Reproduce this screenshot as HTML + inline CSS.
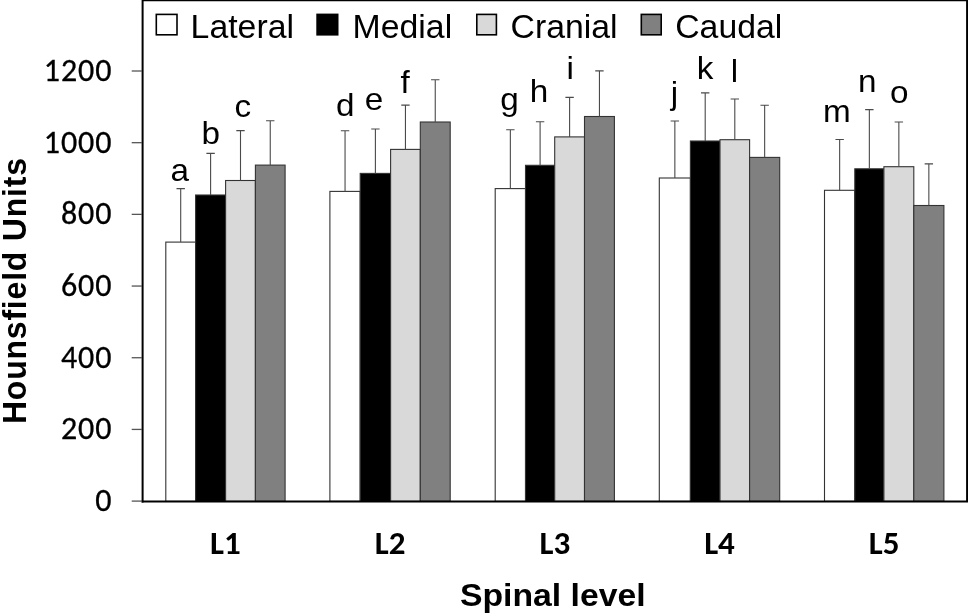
<!DOCTYPE html>
<html lang="en"><head><meta charset="utf-8"><title>Hounsfield Units by spinal level</title>
<style>
html,body{margin:0;padding:0;background:#fff;}
body{width:968px;height:615px;overflow:hidden;}
svg{display:block;}
.ar{font-family:"Liberation Sans",Arimo,Arial,sans-serif;}
.ca{font-family:Carlito,Calibri,"Liberation Sans",sans-serif;}
</style></head><body>
<svg width="968" height="615" viewBox="0 0 968 615">
<rect x="0" y="0" width="968" height="615" fill="#fff"/>

<g stroke="#333" stroke-width="1.1">
<rect x="165.80" y="242.10" width="29.80" height="259.30" fill="#ffffff"/>
<rect x="195.60" y="195.00" width="30.00" height="306.40" fill="#000000"/>
<rect x="225.60" y="180.50" width="29.80" height="320.90" fill="#d9d9d9"/>
<rect x="255.40" y="165.10" width="29.70" height="336.30" fill="#808080"/>
<rect x="329.90" y="191.40" width="30.30" height="310.00" fill="#ffffff"/>
<rect x="360.20" y="173.40" width="30.40" height="328.00" fill="#000000"/>
<rect x="390.60" y="149.40" width="29.70" height="352.00" fill="#d9d9d9"/>
<rect x="420.30" y="122.00" width="29.90" height="379.40" fill="#808080"/>
<rect x="495.20" y="188.60" width="30.30" height="312.80" fill="#ffffff"/>
<rect x="525.50" y="165.30" width="29.20" height="336.10" fill="#000000"/>
<rect x="554.70" y="136.90" width="29.80" height="364.50" fill="#d9d9d9"/>
<rect x="584.50" y="116.50" width="29.90" height="384.90" fill="#808080"/>
<rect x="659.30" y="178.00" width="31.10" height="323.40" fill="#ffffff"/>
<rect x="690.40" y="141.00" width="29.60" height="360.40" fill="#000000"/>
<rect x="720.00" y="139.70" width="29.60" height="361.70" fill="#d9d9d9"/>
<rect x="749.60" y="157.40" width="30.10" height="344.00" fill="#808080"/>
<rect x="824.50" y="190.30" width="30.30" height="311.10" fill="#ffffff"/>
<rect x="854.80" y="168.80" width="29.10" height="332.60" fill="#000000"/>
<rect x="883.90" y="166.70" width="29.90" height="334.70" fill="#d9d9d9"/>
<rect x="913.80" y="205.50" width="30.10" height="295.90" fill="#808080"/>
</g>
<g stroke="#4a4a4a" stroke-width="1.1" fill="none">
<path d="M180.70 242.10V188.60M176.50 188.60H184.90"/>
<path d="M210.60 195.00V153.40M206.40 153.40H214.80"/>
<path d="M240.50 180.50V130.60M236.30 130.60H244.70"/>
<path d="M270.25 165.10V120.70M266.05 120.70H274.45"/>
<path d="M345.05 191.40V130.70M340.85 130.70H349.25"/>
<path d="M375.40 173.40V129.00M371.20 129.00H379.60"/>
<path d="M405.45 149.40V105.10M401.25 105.10H409.65"/>
<path d="M435.25 122.00V79.80M431.05 79.80H439.45"/>
<path d="M510.35 188.60V129.80M506.15 129.80H514.55"/>
<path d="M540.10 165.30V121.80M535.90 121.80H544.30"/>
<path d="M569.60 136.90V97.40M565.40 97.40H573.80"/>
<path d="M599.45 116.50V70.90M595.25 70.90H603.65"/>
<path d="M674.85 178.00V121.00M670.65 121.00H679.05"/>
<path d="M705.20 141.00V92.90M701.00 92.90H709.40"/>
<path d="M734.80 139.70V99.00M730.60 99.00H739.00"/>
<path d="M764.65 157.40V105.30M760.45 105.30H768.85"/>
<path d="M839.65 190.30V139.50M835.45 139.50H843.85"/>
<path d="M869.35 168.80V109.60M865.15 109.60H873.55"/>
<path d="M898.85 166.70V122.00M894.65 122.00H903.05"/>
<path d="M928.85 205.50V163.90M924.65 163.90H933.05"/>
</g>
<g stroke="#000" stroke-width="2" fill="none">
<path d="M142.6 502.4V0.3H967.1V501.4"/>
<path d="M141.6 501.4H968"/>
</g>
<g stroke="#555" stroke-width="1.3">
<path d="M131.7 501.10H142"/>
<path d="M131.7 429.42H142"/>
<path d="M131.7 357.73H142"/>
<path d="M131.7 286.05H142"/>
<path d="M131.7 214.37H142"/>
<path d="M131.7 142.68H142"/>
<path d="M131.7 71.00H142"/>
</g>
<g class="ca" font-size="32" text-anchor="end" fill="#000" stroke="#000" stroke-width="0.3">
<text transform="translate(112.3 511.00)" textLength="17.12" lengthAdjust="spacingAndGlyphs" style="letter-spacing:0.9px">0</text>
<text transform="translate(112.3 439.32)" textLength="51.38" lengthAdjust="spacingAndGlyphs" style="letter-spacing:0.9px">200</text>
<text transform="translate(112.3 367.63)" textLength="51.38" lengthAdjust="spacingAndGlyphs" style="letter-spacing:0.9px">400</text>
<text transform="translate(112.3 295.95)" textLength="51.38" lengthAdjust="spacingAndGlyphs" style="letter-spacing:0.9px">600</text>
<text transform="translate(112.3 224.27)" textLength="51.38" lengthAdjust="spacingAndGlyphs" style="letter-spacing:0.9px">800</text>
<text transform="translate(112.3 152.58)" textLength="68.50" lengthAdjust="spacingAndGlyphs" style="letter-spacing:0.9px">1000</text>
<text transform="translate(112.3 80.90)" textLength="68.50" lengthAdjust="spacingAndGlyphs" style="letter-spacing:0.9px">1200</text>
</g>
<g class="ca" font-size="33" font-weight="bold" text-anchor="middle" fill="#000">
<text x="225.40" y="554.2" textLength="30.69" lengthAdjust="spacingAndGlyphs">L1</text>
<text x="390.10" y="554.2" textLength="30.69" lengthAdjust="spacingAndGlyphs">L2</text>
<text x="554.80" y="554.2" textLength="30.69" lengthAdjust="spacingAndGlyphs">L3</text>
<text x="719.50" y="554.2" textLength="30.69" lengthAdjust="spacingAndGlyphs">L4</text>
<text x="884.20" y="554.2" textLength="30.69" lengthAdjust="spacingAndGlyphs">L5</text>
</g>
<g stroke="#000" stroke-width="1.6">
<rect x="156.30" y="14.4" width="20.70" height="20.4" fill="#fff"/>
<rect x="317.10" y="14.4" width="20.60" height="20.4" fill="#000"/>
<rect x="476.80" y="14.4" width="19.60" height="20.4" fill="#d9d9d9"/>
<rect x="641.30" y="14.4" width="19.90" height="20.4" fill="#808080"/>
</g>
<g class="ar" font-size="33.2" fill="#000">
<text transform="translate(190.60 37.9) scale(1.018 1)">Lateral</text>
<text transform="translate(352.60 37.9) scale(1.018 1)">Medial</text>
<text transform="translate(510.50 37.9) scale(1.018 1)">Cranial</text>
<text transform="translate(675.20 37.9) scale(1.018 1)">Caudal</text>
</g>
<g class="ar" font-size="32" text-anchor="middle" fill="#000">
<text transform="translate(179.85 180.70) scale(1.04 1)">a</text>
<text transform="translate(210.75 143.90) scale(1.04 1)">b</text>
<text transform="translate(242.70 117.40) scale(1.04 1)">c</text>
<text transform="translate(345.15 116.00) scale(1.04 1)">d</text>
<text transform="translate(373.90 109.80) scale(1.04 1)">e</text>
<text transform="translate(405.00 93.00) scale(1.04 1)">f</text>
<text transform="translate(509.60 110.00) scale(1.04 1)">g</text>
<text transform="translate(539.10 102.20) scale(1.04 1)">h</text>
<text transform="translate(570.25 79.10) scale(1.04 1)">i</text>
<text transform="translate(674.45 104.00) scale(1.04 1)">j</text>
<text transform="translate(704.95 78.80) scale(1.04 1)">k</text>
<text transform="translate(734.50 82.40) scale(1.04 1)">l</text>
<text transform="translate(836.90 122.20) scale(1.04 1)">m</text>
<text transform="translate(867.35 92.00) scale(1.04 1)">n</text>
<text transform="translate(899.15 102.80) scale(1.04 1)">o</text>
</g>
<g class="ar" font-size="33.5" font-weight="bold" fill="#000">
<text transform="translate(460 606.3) scale(1.055 1)" font-size="32">Spinal level</text>
<text transform="translate(25.9 424.1) rotate(-90) scale(1 1.045)" font-size="32" style="letter-spacing:0.8px">Hounsfield Units</text>
</g>
</svg>
</body></html>
